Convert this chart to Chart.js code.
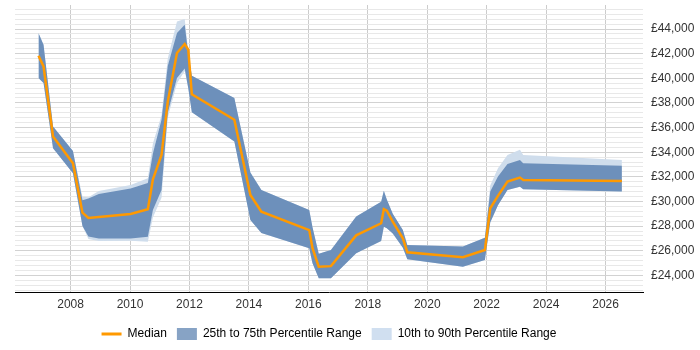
<!DOCTYPE html>
<html>
<head>
<meta charset="utf-8">
<script src="https://cdn.jsdelivr.net/npm/chart.js@4.4.0/dist/chart.umd.min.js"></script>
<style>
  body { margin: 0; background: #fff; }
  #wrap { width: 700px; height: 350px; }
</style>
</head>
<body>
<div id="wrap"><canvas id="chart" width="700" height="350"></canvas></div>
<script>
// data (decimal years)
var years = [2006.92, 2007.09, 2007.41, 2008.08, 2008.40, 2008.60, 2008.95, 2010.02, 2010.60, 2010.77,
    2011.06, 2011.27, 2011.58, 2011.84, 2011.96, 2012.08, 2013.51, 2014.05, 2014.42, 2016.03,
    2016.14, 2016.35, 2016.76, 2017.61, 2018.45, 2018.54, 2018.64, 2018.84, 2019.18, 2019.33,
    2021.20, 2021.94, 2022.12, 2022.38, 2022.70, 2023.12, 2023.23, 2026.55];

var median = [41830, 40960, 35270, 33100, 29090, 28660, 28740, 28980, 29370, 31800,
    33780, 38110, 42050, 42780, 42320, 38700, 36630, 30530, 29170, 27680,
    26200, 24700, 24750, 27250, 28230, 29370, 29250, 28360, 27010, 25880,
    25480, 26060, 29450, 30450, 31610, 31940, 31750, 31670];

var q3 = [43680, 42720, 36080, 34100, 30100, 30250, 30600, 31050, 31500, 33900,
    36630, 41000, 43680, 44350, 42000, 40200, 38390, 32350, 30940, 29300,
    27900, 25750, 26060, 28770, 29980, 30880, 30150, 29000, 27680, 26460,
    26350, 27050, 30800, 32020, 33050, 33370, 33110, 32890];

var q1 = [40020, 39610, 34330, 32300, 28000, 27150, 27000, 27000, 27140, 29300,
    30940, 37200, 40020, 40800, 39200, 37250, 34860, 28500, 27450, 26200,
    24980, 23760, 23760, 25790, 26790, 27950, 27820, 27400, 26250, 25300,
    24700, 25240, 28300, 29700, 30940, 31200, 30990, 30800];

var p90 = [43680, 42720, 36080, 34100, 30390, 30350, 30850, 31340, 31890, 34700,
    37000, 41600, 44620, 44810, 42200, 40200, 38390, 32350, 30940, 29300,
    27900, 25750, 26060, 28770, 29980, 30880, 30150, 29000, 27680, 26460,
    26350, 27050, 31300, 32700, 33780, 34190, 33780, 33370];

var p10 = [40020, 39610, 34330, 32300, 28000, 26950, 26800, 26810, 26730, 28700,
    30300, 36800, 39600, 40600, 39200, 37250, 34860, 28500, 27450, 26200,
    24980, 23760, 23760, 25790, 26790, 27950, 27820, 27400, 26250, 25300,
    24700, 25240, 28300, 29700, 30940, 31200, 30990, 30800];

var xTicks = [2008, 2010, 2012, 2014, 2016, 2018, 2020, 2022, 2024, 2026];

var orange = "#ff9900",
    darkBand = "#6d90bb",
    lightBand = "#cfddec";

function points(values) {
    return values.map(function (v, i) {
        return {x: years[i], y: v};
    });
}

// minor grid every 400, labels every 2000
var yTicks = [];
for (var v = 22800; v <= 45600; v += 400) {
    yTicks.push({value: v});
}

var chart = new Chart(document.getElementById("chart"), {
    type: "line",
    data: {
        datasets: [
            {
                label: "Median",
                data: points(median),
                borderColor: orange,
                borderWidth: 2.5,
                fill: false
            },
            {
                label: "25th to 75th Percentile Range",
                data: points(q3),
                borderWidth: 0,
                borderColor: "rgba(0,0,0,0)",
                backgroundColor: darkBand,
                fill: "+1"
            },
            {
                label: "q1",
                data: points(q1),
                borderWidth: 0,
                borderColor: "rgba(0,0,0,0)",
                fill: false
            },
            {
                label: "10th to 90th Percentile Range",
                data: points(p90),
                borderWidth: 0,
                borderColor: "rgba(0,0,0,0)",
                backgroundColor: lightBand,
                fill: "+1"
            },
            {
                label: "p10",
                data: points(p10),
                borderWidth: 0,
                borderColor: "rgba(0,0,0,0)",
                fill: false
            }
        ]
    },
    options: {
        responsive: false,
        animation: false,
        layout: {
            padding: {left: 15, top: 5, right: 0, bottom: 0}
        },
        elements: {
            point: {radius: 0},
            line: {tension: 0}
        },
        scales: {
            x: {
                type: "linear",
                min: 2006.13,
                max: 2027.26,
                afterBuildTicks: function (scale) {
                    scale.ticks = xTicks.map(function (t) { return {value: t}; });
                },
                afterFit: function (scale) {
                    scale.height = 26;
                    scale.paddingLeft = 0;
                    scale.paddingRight = 0;
                },
                ticks: {
                    autoSkip: false,
                    maxRotation: 0,
                    padding: 5,
                    color: "#333",
                    font: {family: "Liberation Sans, Arial", size: 12},
                    callback: function (value) { return String(value); }
                },
                grid: {
                    color: "#cccccc",
                    drawTicks: false
                },
                border: {
                    display: true,
                    color: "#000",
                    width: 1
                }
            },
            y: {
                position: "right",
                min: 22650,
                max: 45950,
                afterBuildTicks: function (scale) {
                    scale.ticks = yTicks.slice();
                },
                afterFit: function (scale) {
                    scale.width = 57;
                    scale.paddingTop = 0;
                    scale.paddingBottom = 0;
                },
                ticks: {
                    autoSkip: false,
                    padding: 8,
                    color: "#333",
                    font: {family: "Liberation Sans, Arial", size: 12},
                    callback: function (value) {
                        if (value % 2000 !== 0) return "";
                        return "£" + value.toLocaleString("en-GB");
                    }
                },
                grid: {
                    drawTicks: false,
                    color: function (ctx) {
                        return ctx.tick && ctx.tick.value % 2000 === 0 ? "#d2d2d2" : "#e8e8e8";
                    }
                },
                border: {display: false}
            }
        },
        plugins: {
            tooltip: {enabled: false},
            legend: {
                position: "bottom",
                fullSize: false,
                labels: {
                    usePointStyle: true,
                    pointStyleWidth: 20,
                    boxHeight: 12,
                    padding: 10,
                    color: "#222",
                    font: {family: "Liberation Sans, Arial", size: 12},
                    generateLabels: function () {
                        return [
                            {text: "Median", pointStyle: "line", strokeStyle: orange, fillStyle: orange, lineWidth: 3, datasetIndex: 0},
                            {text: "25th to 75th Percentile Range", pointStyle: "rect", fillStyle: "#87a3c5", strokeStyle: "#87a3c5", lineWidth: 0, datasetIndex: 1},
                            {text: "10th to 90th Percentile Range", pointStyle: "rect", fillStyle: "#d0dff0", strokeStyle: "#d0dff0", lineWidth: 0, datasetIndex: 3}
                        ];
                    }
                }
            }
        }
    }
});
</script>
</body>
</html>
